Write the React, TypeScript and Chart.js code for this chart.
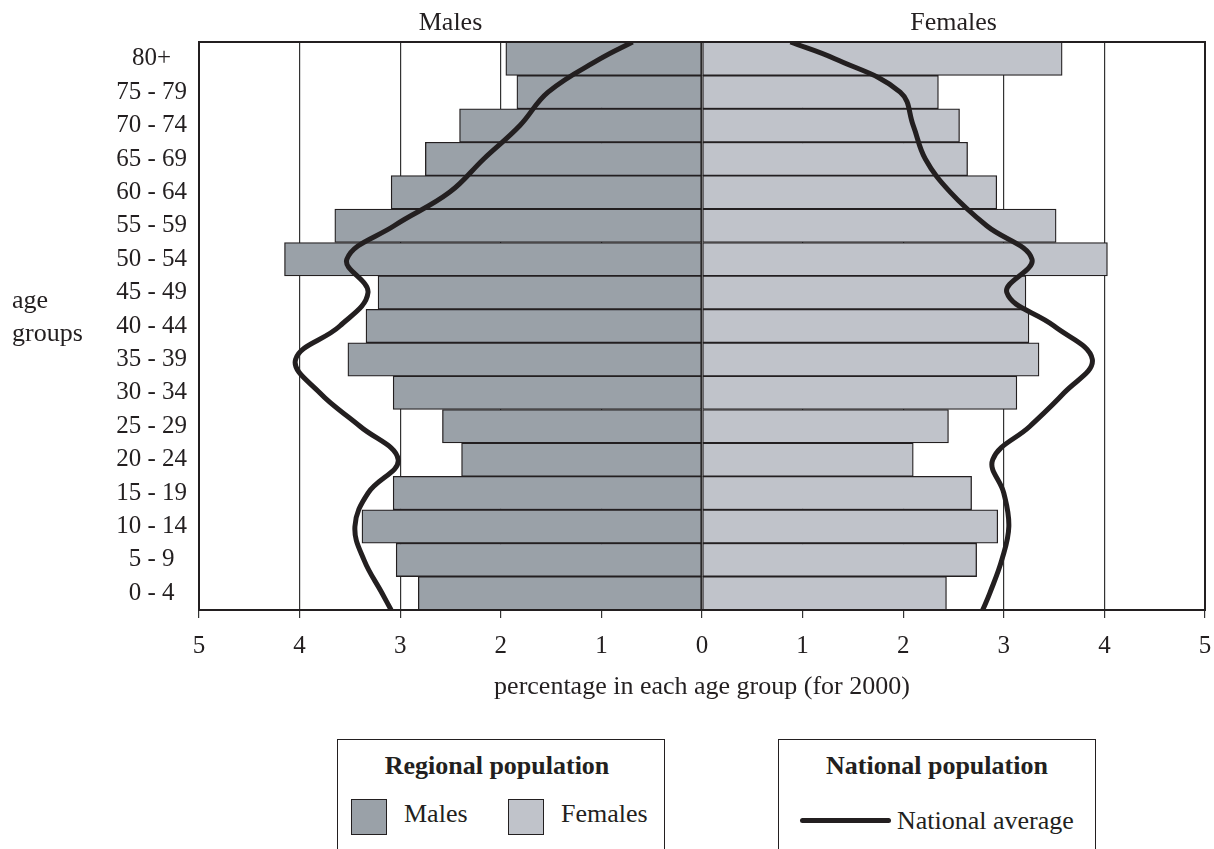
import React, { useEffect, useRef } from 'react';
import { Chart, registerables } from 'chart.js';

Chart.register(...registerables);

// ---- data (age groups listed top to bottom) ----
const AGE_GROUPS = [
  '80+', '75 - 79', '70 - 74', '65 - 69', '60 - 64', '55 - 59', '50 - 54', '45 - 49',
  '40 - 44', '35 - 39', '30 - 34', '25 - 29', '20 - 24', '15 - 19', '10 - 14', '5 - 9', '0 - 4',
];
// regional population, percentage in each age group (males shown on the negative side)
const REGIONAL_MALES = [
  -1.95, -1.84, -2.41, -2.75, -3.09, -3.65, -4.15, -3.22,
  -3.34, -3.52, -3.07, -2.58, -2.39, -3.07, -3.38, -3.04, -2.82,
];
const REGIONAL_FEMALES = [
  3.58, 2.35, 2.56, 2.64, 2.93, 3.52, 4.03, 3.22,
  3.25, 3.35, 3.13, 2.45, 2.10, 2.68, 2.94, 2.73, 2.43,
];
// national average at each age group
const NATIONAL_MALES = [
  -1.01, -1.53, -1.81, -2.17, -2.51, -3.06, -3.53, -3.32,
  -3.60, -4.04, -3.80, -3.40, -3.02, -3.32, -3.45, -3.36, -3.18,
];
const NATIONAL_FEMALES = [
  1.32, 1.97, 2.10, 2.22, 2.47, 2.83, 3.28, 3.03,
  3.50, 3.88, 3.60, 3.26, 2.89, 3.00, 3.05, 2.98, 2.86,
];
// national line values at the top and bottom edges of the plot
const NATIONAL_MALES_ENDS = [-0.69, -3.09];
const NATIONAL_FEMALES_ENDS = [0.88, 2.79];

const SIDE_TITLES = ['Males', 'Females'];
const Y_TITLE = ['age', 'groups'];
const X_TITLE = 'percentage in each age group (for 2000)';
const X_MIN = -5;
const X_MAX = 5;

const SERIF = "'Liberation Serif', 'Times New Roman', serif";
const INK = '#231f20';
const MALE_FILL = '#9aa1a8';
const FEMALE_FILL = '#c0c3ca';

function nationalPoints(values: number[], ends: number[]) {
  const n = values.length;
  return [
    { x: ends[0], y: n },
    ...values.map((v, i) => ({ x: v, y: n - i - 0.5 })),
    { x: ends[1], y: 0 },
  ];
}

const pyramidDecor = {
  id: 'pyramidDecor',
  beforeDatasetsDraw(chart: any) {
    const { ctx, chartArea: a } = chart;
    ctx.save();
    ctx.strokeStyle = INK;
    ctx.lineWidth = 2;
    ctx.strokeRect(a.left, a.top, a.right - a.left, a.bottom - a.top);
    ctx.restore();
  },
  afterDraw(chart: any) {
    const { ctx, chartArea: a, scales } = chart;
    const zero = scales.x.getPixelForValue(0);
    ctx.save();
    ctx.fillStyle = INK;
    ctx.font = `26px ${SERIF}`;
    ctx.textBaseline = 'alphabetic';
    ctx.textAlign = 'center';
    ctx.fillText(SIDE_TITLES[0], (a.left + zero) / 2, a.top - 12);
    ctx.fillText(SIDE_TITLES[1], (zero + a.right) / 2, a.top - 12);
    ctx.textAlign = 'left';
    const mid = (a.top + a.bottom) / 2;
    ctx.fillText(Y_TITLE[0], 12, mid - 18);
    ctx.fillText(Y_TITLE[1], 12, mid + 15);
    ctx.restore();
  },
};

export default function App() {
  const canvasRef = useRef<HTMLCanvasElement | null>(null);

  useEffect(() => {
    if (!canvasRef.current) return;
    const lineStyle = {
      type: 'line',
      xAxisID: 'x',
      yAxisID: 'yn',
      indexAxis: 'y',
      borderColor: INK,
      borderWidth: 5,
      pointRadius: 0,
      tension: 0.4,
      fill: false,
      order: 0,
    };
    const barStyle = {
      xAxisID: 'x',
      yAxisID: 'y',
      borderColor: INK,
      borderWidth: 1.3,
      borderSkipped: false,
      grouped: false,
      barPercentage: 1,
      categoryPercentage: 1,
      order: 1,
    };
    const chart = new Chart(canvasRef.current, {
      type: 'bar',
      data: {
        labels: AGE_GROUPS,
        datasets: [
          {
            ...lineStyle,
            label: 'National average (males)',
            data: nationalPoints(NATIONAL_MALES, NATIONAL_MALES_ENDS),
          } as any,
          {
            ...lineStyle,
            label: 'National average (females)',
            data: nationalPoints(NATIONAL_FEMALES, NATIONAL_FEMALES_ENDS),
          } as any,
          { ...barStyle, label: 'Males', data: REGIONAL_MALES, backgroundColor: MALE_FILL } as any,
          { ...barStyle, label: 'Females', data: REGIONAL_FEMALES, backgroundColor: FEMALE_FILL } as any,
        ],
      },
      options: {
        indexAxis: 'y',
        responsive: false,
        maintainAspectRatio: false,
        animation: false,
        layout: { padding: { left: 0, right: 9, top: 42, bottom: 149 } },
        plugins: {
          legend: { display: false },
          tooltip: { enabled: false },
        },
        scales: {
          x: {
            type: 'linear',
            min: X_MIN,
            max: X_MAX,
            ticks: {
              stepSize: 1,
              callback: (v: any) => String(Math.abs(Number(v))),
              font: { family: SERIF, size: 25 },
              color: INK,
              padding: 13,
              maxRotation: 0,
            },
            grid: { color: '#333333', lineWidth: 1.2, tickLength: 8, drawOnChartArea: true },
            border: { display: false },
            title: {
              display: true,
              text: X_TITLE,
              font: { family: SERIF, size: 26, lineHeight: 1.0 },
              color: INK,
              padding: { top: 0, bottom: 0 },
            },
            afterFit: (scale: any) => {
              scale.paddingLeft = 0;
              scale.paddingRight = 0;
            },
          },
          y: {
            type: 'category',
            position: 'left',
            offset: true,
            grid: { display: false, drawTicks: false },
            border: { display: false },
            ticks: {
              font: { family: SERIF, size: 25 },
              color: INK,
              crossAlign: 'center',
              padding: 12,
              autoSkip: false,
            },
            afterFit: (scale: any) => {
              scale.width = 199;
            },
          },
          yn: {
            type: 'linear',
            position: 'left',
            offset: false,
            min: 0,
            max: AGE_GROUPS.length,
            display: false,
            grid: { offset: false },
          },
        },
      } as any,
      plugins: [pyramidDecor],
    });
    return () => chart.destroy();
  }, []);

  const text: React.CSSProperties = {
    position: 'absolute',
    fontFamily: SERIF,
    fontSize: 26,
    lineHeight: '30px',
    color: INK,
    whiteSpace: 'nowrap',
  };
  const box: React.CSSProperties = {
    position: 'absolute',
    top: 739,
    height: 140,
    border: `1px solid ${INK}`,
    boxSizing: 'border-box',
    background: '#fff',
  };
  const swatch = (fill: string): React.CSSProperties => ({
    position: 'absolute',
    top: 59,
    width: 36,
    height: 36,
    background: fill,
    border: `1.5px solid ${INK}`,
    boxSizing: 'border-box',
  });

  return (
    <div
      style={{
        position: 'fixed',
        left: 0,
        top: 0,
        width: 1214,
        height: 849,
        overflow: 'hidden',
        background: '#fff',
      }}
    >
      <canvas
        ref={canvasRef}
        width={1214}
        height={849}
        style={{ position: 'absolute', left: 0, top: 0, width: 1214, height: 849 }}
      />
      <div style={{ ...box, left: 337, width: 328 }}>
        <div style={{ ...text, left: 0, width: 318, top: 11, textAlign: 'center', fontWeight: 'bold' }}>
          Regional population
        </div>
        <div style={{ ...swatch(MALE_FILL), left: 13 }} />
        <div style={{ ...text, left: 66, top: 59 }}>Males</div>
        <div style={{ ...swatch(FEMALE_FILL), left: 170 }} />
        <div style={{ ...text, left: 223, top: 59 }}>Females</div>
      </div>
      <div style={{ ...box, left: 778, width: 318 }}>
        <div style={{ ...text, left: 0, width: 316, top: 11, textAlign: 'center', fontWeight: 'bold' }}>
          National population
        </div>
        <div
          style={{
            position: 'absolute',
            left: 21,
            top: 78,
            width: 91,
            height: 5,
            borderRadius: 3,
            background: INK,
          }}
        />
        <div style={{ ...text, left: 118, top: 66 }}>National average</div>
      </div>
    </div>
  );
}
